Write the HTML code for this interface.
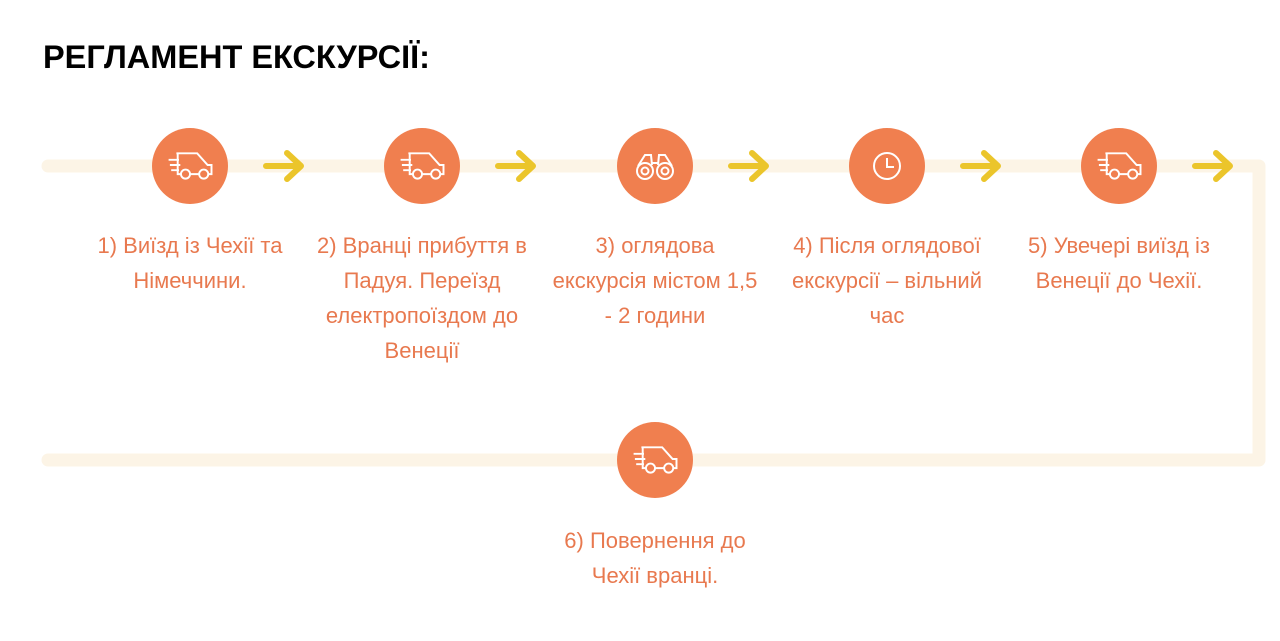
<!DOCTYPE html>
<html><head><meta charset="utf-8"><style>
body{margin:0;width:1280px;height:641px;background:#fff;position:relative;overflow:hidden;font-family:"Liberation Sans",sans-serif}
h1{position:absolute;left:43px;top:39px;margin:0;font-size:32.5px;font-weight:bold;color:#000}
.t{position:absolute;width:214px;text-align:center;color:#e8794f;font-size:22px;line-height:35px}
svg{position:absolute;left:0;top:0}
</style></head><body>
<svg width="1280" height="641">
<path d="M48 166 H1259 V460 H48" fill="none" stroke="#fcf4e6" stroke-width="13" stroke-linecap="round" stroke-linejoin="round"/>
<g fill="#f07f4f">
<circle cx="190" cy="166" r="38"/><circle cx="422" cy="166" r="38"/><circle cx="655" cy="166" r="38"/><circle cx="887" cy="166" r="38"/><circle cx="1119" cy="166" r="38"/><circle cx="655" cy="460" r="38"/>
</g>
<g fill="none" stroke="#ebc52b" stroke-width="6" stroke-linecap="round" stroke-linejoin="round">
<path d="M266 166H300M287 153L301 166L287 179"/>
<path d="M498 166H532M519 153L533 166L519 179"/>
<path d="M731 166H765M752 153L766 166L752 179"/>
<path d="M963 166H997M984 153L998 166L984 179"/>
<path d="M1195 166H1229M1216 153L1230 166L1216 179"/>
</g>
<defs><g id="car" fill="none" stroke="#fff" stroke-width="1.5">
<path d="M-12 -9 H4 L12 0 H15 V7 H-11 V-9"/><circle cx="-5" cy="7" r="3.5" fill="#f07f4f"/><circle cx="9" cy="7" r="3.5" fill="#f07f4f"/>
<path d="M-18 -4H-10M-17 0H-9M-16 4H-10"/></g></defs>
<use href="#car" transform="translate(192 165) scale(1.3)"/><use href="#car" transform="translate(424 165) scale(1.3)"/><use href="#car" transform="translate(1121 165) scale(1.3)"/><use href="#car" transform="translate(657 459) scale(1.3)"/>
<g fill="none" stroke="#fff" stroke-width="2">
<circle cx="645" cy="171" r="8"/><circle cx="665" cy="171" r="8"/><circle cx="645" cy="171" r="3.5"/><circle cx="665" cy="171" r="3.5"/>
<path d="M638 166L645 155H651L652 165M672 166L665 155H659L658 165M651 163H659"/>
<circle cx="887" cy="166" r="13"/><path d="M887 158V167H894"/>
</g>
</svg>
<h1>РЕГЛАМЕНТ ЕКСКУРСІЇ:</h1>
<div class="t" style="left:83px;top:228px">1) Виїзд із Чехії та Німеччини.</div>
<div class="t" style="left:315px;top:228px">2) Вранці прибуття в Падуя. Переїзд електропоїздом до Венеції</div>
<div class="t" style="left:549px;top:228px;width:212px">3) оглядова екскурсія містом 1,5 - 2 години</div>
<div class="t" style="left:780px;top:228px">4) Після оглядової екскурсії – вільний час</div>
<div class="t" style="left:1012px;top:228px">5) Увечері виїзд із Венеції до Чехії.</div>
<div class="t" style="left:555px;top:523px;width:200px">6) Повернення до Чехії вранці.</div>
</body></html>
